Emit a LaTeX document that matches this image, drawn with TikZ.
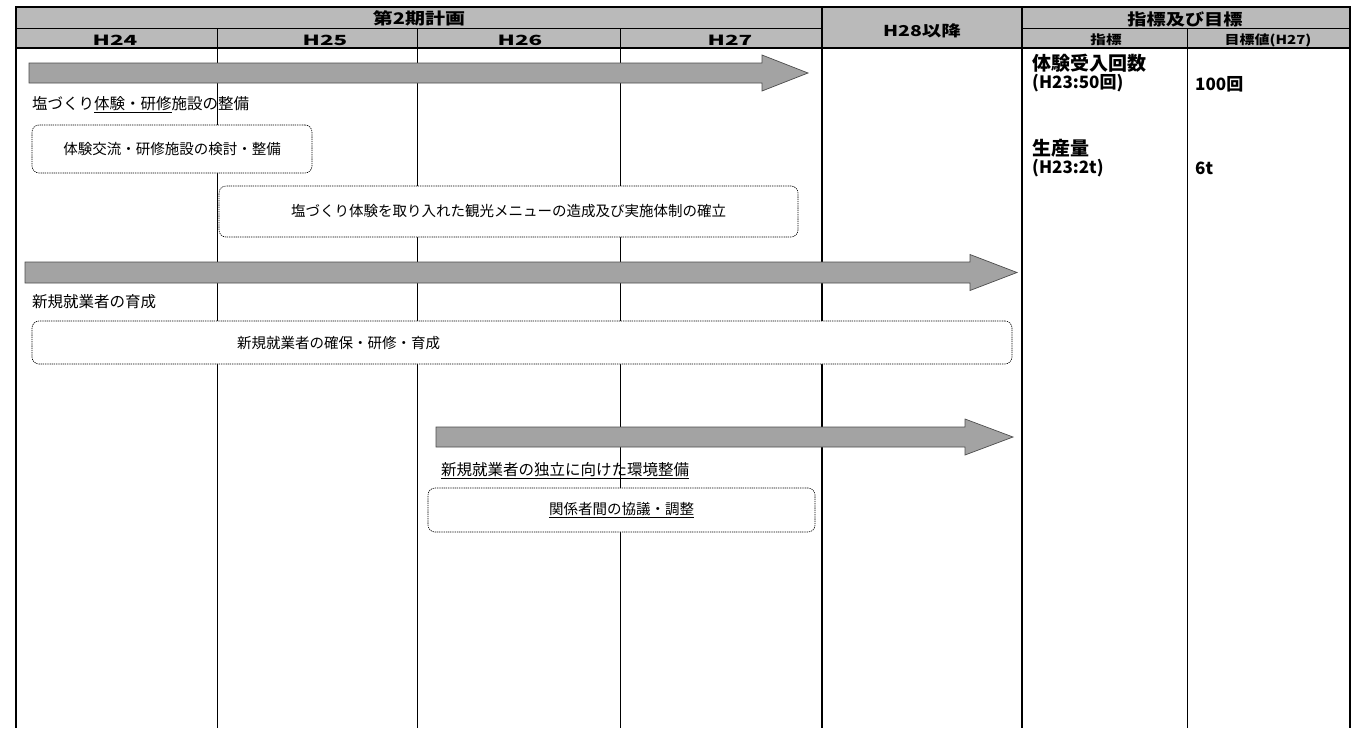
\documentclass[tikz,border=0pt]{standalone}
\usepackage{graphicx}
\usepackage{fontspec}
\setmainfont{Noto Sans CJK JP}
\begin{document}
\begin{tikzpicture}[x=1pt,y=-1pt,
  hdrtxt/.style={inner sep=0pt,font=\bfseries},
  lbl/.style={anchor=west,inner sep=0pt,font=\fontsize{15.5}{18}\selectfont},
  boxtxt/.style={inner sep=0pt,font=\fontsize{14.5}{17}\selectfont},
  rtxt/.style={anchor=west,inner sep=0pt,font=\bfseries\fontsize{19}{21}\selectfont},
  rsub/.style={anchor=west,inner sep=0pt,font=\bfseries\fontsize{17}{19}\selectfont},
  taskbox/.style={draw, fill=white, rounded corners=7pt, dash pattern=on 1.3pt off 0.9pt, line width=0.6pt, inner sep=0pt},
  barrow/.style={fill=black!36, draw=black!70, line width=0.7pt},
  gridthin/.style={line width=0.8pt},
  gridmid/.style={line width=1.2pt},
  gridbold/.style={line width=1.7pt}
]
\useasboundingbox (0,0) rectangle (1367,728);

% header background
\fill[black!27] (16,7) rectangle (1350,48);

% grid lines
\draw[gridbold] (15,7) -- (1351,7);
\draw[gridthin] (16,28) -- (822,28);
\draw[gridthin] (1022,28) -- (1350,28);
\draw[gridbold] (16,48) -- (1350,48);
\draw[gridbold] (16,7) -- (16,728);
\draw[gridthin] (217,28) -- (217,728);
\draw[gridthin] (417,28) -- (417,728);
\draw[gridthin] (620,28) -- (620,728);
\draw[gridmid] (822,7) -- (822,728);
\draw[gridbold] (1022,7) -- (1022,728);
\draw[gridthin] (1187,28) -- (1187,728);
\draw[gridbold] (1350,7) -- (1350,728);

% header texts
\node[hdrtxt] (hplan) at (419,18) {\scalebox{1.25}[1]{\fontsize{16}{16}\selectfont 第2期計画}};
\node[hdrtxt] (h24) at (115,40) {\scalebox{1.6}[1]{\fontsize{14}{14}\selectfont H24}};
\node[hdrtxt] (h25) at (325,40) {\scalebox{1.6}[1]{\fontsize{14}{14}\selectfont H25}};
\node[hdrtxt] (h26) at (520,40) {\scalebox{1.6}[1]{\fontsize{14}{14}\selectfont H26}};
\node[hdrtxt] (h27) at (730,40) {\scalebox{1.6}[1]{\fontsize{14}{14}\selectfont H27}};
\node[hdrtxt] (h28) at (922,31) {\scalebox{1.3}[1]{\fontsize{15}{15}\selectfont H28以降}};
\node[hdrtxt] (hgoal) at (1185,19) {\scalebox{1.2}[1]{\fontsize{16}{16}\selectfont 指標及び目標}};
\node[hdrtxt] (hind) at (1106,40) {\scalebox{1.25}[1]{\fontsize{12.5}{12.5}\selectfont 指標}};
\node[hdrtxt] (hval) at (1268,40) {\scalebox{1.2}[1]{\fontsize{12.5}{12.5}\selectfont 目標値(H27)}};

% block arrows
\draw[barrow] (29,63) -- (762,63) -- (762,55) -- (808,73) -- (762,91) -- (762,83) -- (29,83) -- cycle;
\draw[barrow] (25,262) -- (970,262) -- (970,254.5) -- (1017,272.5) -- (970,290.5) -- (970,283) -- (25,283) -- cycle;
\draw[barrow] (436,427) -- (965,427) -- (965,419) -- (1013,437) -- (965,455) -- (965,447) -- (436,447) -- cycle;

% section labels
\node[lbl] (l1) at (32,105) {塩づくり\underline{体験・研修}施設の整備};
\node[lbl] (l2) at (32,302) {新規就業者の育成};
\node[lbl] (l3) at (441,471) {\underline{新規就業者の独立に向けた環境整備}};

% task boxes
\node[taskbox, minimum width=280pt, minimum height=48pt, boxtxt] (b1) at (172,149) {体験交流・研修施設の検討・整備};
\node[taskbox, minimum width=579pt, minimum height=51pt, boxtxt] (b2) at (508.5,211.5) {塩づくり体験を取り入れた観光メニューの造成及び実施体制の確立};
\node[taskbox, minimum width=980pt, minimum height=43pt] (b3) at (522,342.5) {};
\node[boxtxt, anchor=west] (b3t) at (237,343) {新規就業者の確保・研修・育成};
\node[taskbox, minimum width=387pt, minimum height=44pt, boxtxt] (b4) at (621.5,510) {\underline{関係者間の協議・調整}};

% indicators and targets
\node[rtxt] (i1) at (1032,63) {体験受入回数};
\node[rsub] (i1b) at (1032,83) {(H23:50回)};
\node[rsub] (v1) at (1195,84) {100回};
\node[rtxt] (i2) at (1032,148) {生産量};
\node[rsub] (i2b) at (1032,168) {(H23:2t)};
\node[rsub] (v2) at (1195,168) {6t};
\end{tikzpicture}
\end{document}
